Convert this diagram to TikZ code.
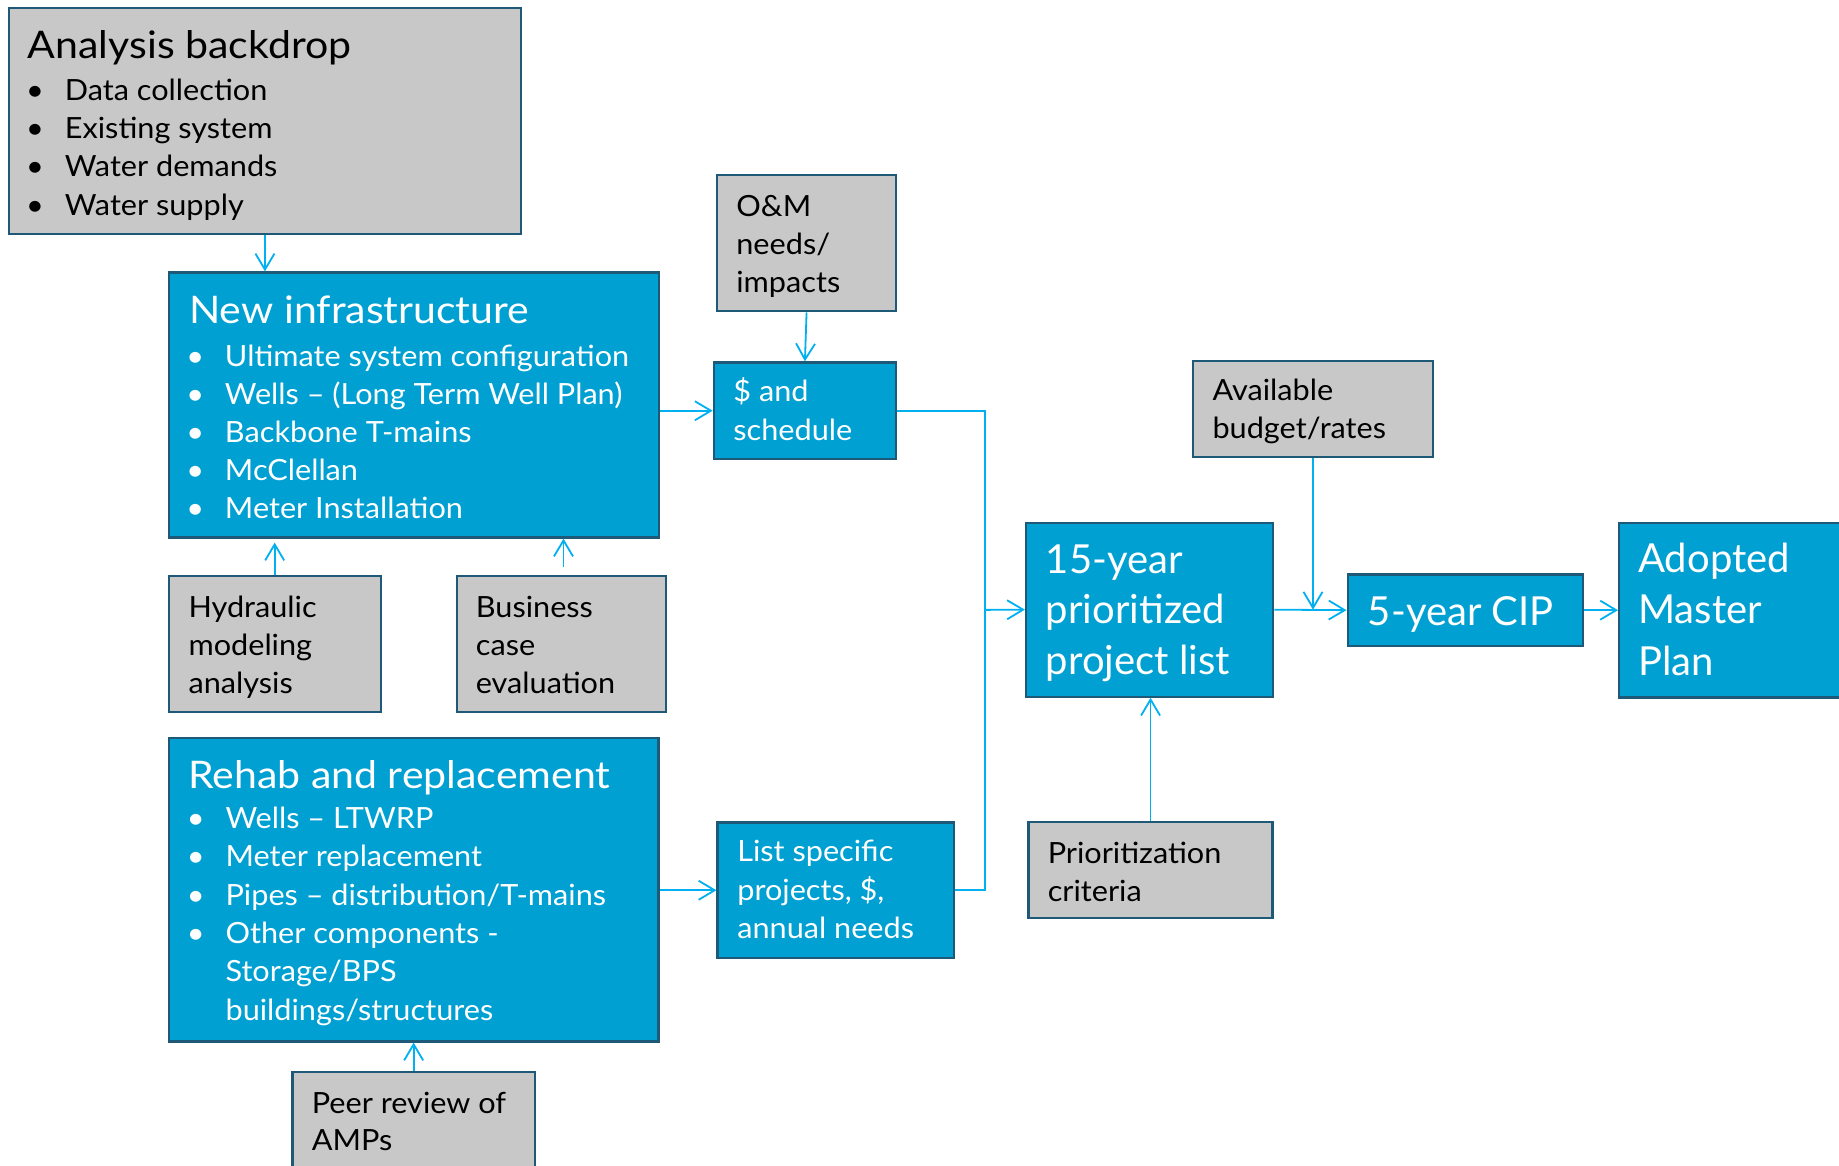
\documentclass[tikz,border=0pt]{standalone}
\usepackage{fontspec}
\setmainfont{Lato}
\newfontfamily\latobody{Lato}[FakeStretch=1.05]
\newfontfamily\latotitle{Lato}[FakeStretch=1.08]
\usetikzlibrary{arrows.meta,fit}
\definecolor{boxblue}{RGB}{0,160,210}
\definecolor{edgecol}{RGB}{30,90,120}
\definecolor{boxgray}{RGB}{200,200,200}
\definecolor{conncol}{RGB}{0,176,240}
\newcommand\fbody{\latobody\fontsize{14.6}{18}\selectfont}
\newcommand\ftitle{\latotitle\fontsize{19}{23}\selectfont}
\newcommand\fbig{\fontsize{20}{24}\selectfont}
\newcommand\bl[1]{\makebox[19.35pt][l]{\textbullet}#1}
\newcommand\ind[1]{\hspace*{19.35pt}#1}
% name, x, first baseline, spacing, style, lines
\newcommand\txtlines[6]{\foreach \ln [count=\i] in {#6}{\node[#5] (#1-\i) at (#2,{#3+(\i-1)*#4}) {\ln};}}
\tikzset{
  bluebox/.style={draw=edgecol, fill=boxblue, line width=1.1pt, inner sep=0pt},
  graybox/.style={draw=edgecol, fill=boxgray, line width=1.1pt, inner sep=0pt},
  wtxt/.style={anchor=base west, inner sep=0pt, text=white, font=\fbody},
  btxt/.style={anchor=base west, inner sep=0pt, text=black, font=\fbody},
  wtitle/.style={anchor=base west, inner sep=0pt, text=white, font=\ftitle},
  btitle/.style={anchor=base west, inner sep=0pt, text=black, font=\ftitle},
  wbig/.style={anchor=base west, inner sep=0pt, text=white, font=\fbig},
  plainlink/.style={draw=conncol, line width=0.9pt},
  link/.style={plainlink, -{Straight Barb[length=8pt,width=9.5pt]}},
}
\begin{document}
\begin{tikzpicture}[x=0.5864pt, y=-0.5864pt]
\useasboundingbox (0,0) rectangle (1568,994);
\fill[white] (0,0) rectangle (1568,994);
\clip (0,0) rectangle (1568,994);

% boxes
\node[graybox, fit={(7.6,6.7) (444.2,199.8)}] (ab) {};
\node[bluebox, fit={(143.9,232.3) (561.9,458.3)}] (ni) {};
\node[graybox, fit={(611.4,149.2) (764,265.5)}] (om) {};
\node[bluebox, fit={(608.6,309) (764,391.4)}] (sched) {};
\node[graybox, fit={(143.8,491.1) (324.6,606.8)}] (hyd) {};
\node[graybox, fit={(389.7,491.1) (567.8,606.8)}] (bus) {};
\node[bluebox, fit={(143.9,629) (561.4,888)}] (rr) {};
\node[bluebox, fit={(611.8,701.2) (813.3,816.9)}] (list) {};
\node[graybox, fit={(249.4,913.8) (456,1010)}] (peer) {};
\node[graybox, fit={(1017,307.6) (1222,389.7)}] (avail) {};
\node[bluebox, fit={(874.8,445.6) (1085.6,594)}] (fy) {};
\node[bluebox, fit={(1149,489.9) (1349.4,550.6)}] (cip) {};
\node[bluebox, fit={(1380.5,446) (1600,594.7)}] (amp) {};
\node[graybox, fit={(877,701) (1085,783)}] (prio) {};

% texts
\node[btitle] (ab-t) at (23.5,50.3) {Analysis backdrop};
\txtlines{ab}{22}{85.3}{32.8}{btxt}{\bl{Data collection},\bl{Existing system},\bl{Water demands},\bl{Water supply}}
\node[wtitle] (ni-t) at (161,275.4) {New infrastructure};
\txtlines{ni}{158.5}{312.1}{32.6}{wtxt}{\bl{Ultimate system configuration},\bl{Wells – (Long Term Well Plan)},\bl{Backbone T-mains},\bl{McClellan},\bl{Meter Installation}}
\node[wtitle] (rr-t) at (160.2,672.2) {Rehab and replacement};
\txtlines{rr}{159}{706.3}{32.7}{wtxt}{\bl{Wells – LTWRP},\bl{Meter replacement},\bl{Pipes – distribution/T-mains},\bl{Other components -},\ind{Storage/BPS},\ind{buildings/structures}}
\txtlines{om}{627.5}{184.3}{32.4}{btxt}{O\&M,needs/,impacts}
\txtlines{sched}{625}{342.6}{33.4}{wtxt}{\$ and,schedule}
\txtlines{hyd}{160.4}{526.4}{32.4}{btxt}{Hydraulic,modeling,analysis}
\txtlines{bus}{405.4}{526.4}{32.4}{btxt}{Business,case,evaluation}
\txtlines{list}{628.3}{734.7}{32.7}{wtxt}{List specific,{projects, \$,},annual needs}
\txtlines{peer}{265.5}{949}{31.6}{btxt}{Peer review of,AMPs}
\txtlines{avail}{1033.5}{341.3}{32.4}{btxt}{Available,budget/rates}
\txtlines{prio}{893}{736.5}{32.5}{btxt}{Prioritization,criteria}
\txtlines{fy}{891.5}{488.8}{43.1}{wbig}{15-year,prioritized,project list}
\node[wbig] (cip-t) at (1166,533.3) {5-year CIP};
\txtlines{amp}{1396.5}{488}{44}{wbig}{Adopted,Master,Plan}

% connectors
\coordinate (jn) at (839.8,520);
\draw[link] (ab.south) -- (ab.south |- ni.north);
\draw[link] (ni.east |- sched.west) -- (sched.west);
\draw[link] (om.south) -- (sched.north);
\draw[link, shorten >=2pt] (hyd.north) -- (hyd.north |- ni.south);
\draw[link, shorten <=4pt] ([xshift=1pt]bus.north) -- ([xshift=1pt]bus.north |- ni.south);
\draw[plainlink] (sched.east) -| (jn);
\draw[plainlink] (list.east) -| (jn);
\draw[link] (jn) -- (fy.west);
\draw[link] (rr.east |- list.west) -- (list.west);
\draw[link] (peer.north) -- (peer.north |- rr.south);
\draw[link] (fy.east) -- (cip.west);
\draw[link] (avail.south) -- (avail.south |- fy.east);
\draw[link] (prio.north) -- (prio.north |- fy.south);
\draw[link] (cip.east) -- (cip.east -| amp.west);
\end{tikzpicture}
\end{document}
